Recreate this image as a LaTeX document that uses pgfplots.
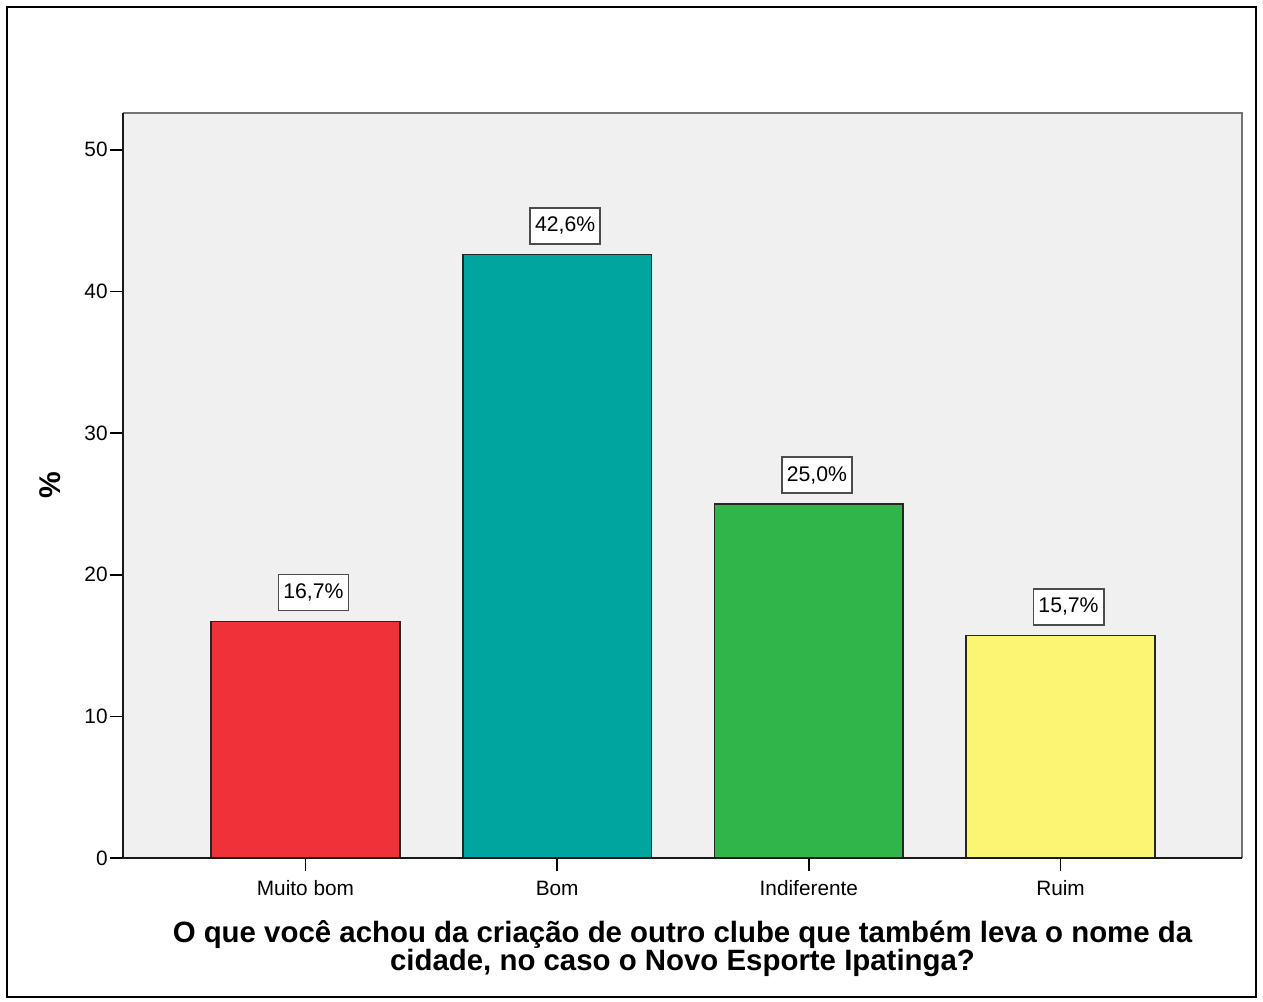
\documentclass[border=0pt]{standalone}
\usepackage{pgfplots}
\pgfplotsset{compat=1.18}
\usepackage{fontspec}
\setmainfont{Liberation Sans}

\definecolor{cRed}{RGB}{239,50,58}
\definecolor{cTeal}{RGB}{0,165,160}
\definecolor{cGreen}{RGB}{46,183,72}
\definecolor{cYellow}{RGB}{250,246,115}
\definecolor{plotbg}{RGB}{240,240,240}

\begin{document}
\begin{tikzpicture}[x=0.5pt,y=0.5pt]
\path[use as bounding box] (0,0) rectangle (1263,1001);
\draw[line width=1.1pt] (7,4) rectangle (1256,994);
\begin{axis}[
  at={(61.5pt,71.5pt)}, anchor=south west,
  scale only axis, width=559.5pt, height=372.5pt,
  xmin=-0.725, xmax=3.721, ymin=0, ymax=52.6,
  axis background/.style={fill=plotbg},
  axis line style={draw=none},
  xtick={0,1,2,3},
  xticklabels={Muito bom,Bom,Indiferente,Ruim},
  ytick={0,10,20,30,40,50},
  xtick pos=bottom, ytick pos=left,
  tick align=outside, major tick length=6.5pt,
  tick style={black, line width=0.8pt},
  /pgf/number format/assume math mode=true,
  ticklabel style={font=\fontsize{10.4}{12}\selectfont},
  yticklabel style={inner xsep=1pt},
  xticklabel style={text height=8pt, yshift=-0.5pt},
  ylabel={\%},
  ylabel style={font=\bfseries\fontsize{15}{16}\selectfont, at={(axis description cs:-0.065,0.5)}, anchor=center},
  xlabel={O que você achou da criação de outro clube que também leva o nome da\\cidade, no caso o Novo Esporte Ipatinga?},
  xlabel style={font=\bfseries\fontsize{14.7}{14}\selectfont, align=center, at={(axis description cs:0.5,-0.121)}, anchor=center},
  nodes near coords={\pgfmathprintnumber[fixed,fixed zerofill,precision=1,use comma]{\pgfplotspointmeta}\%},
  every node near coord/.append style={draw=black!70, fill=white, line width=0.9pt,
    inner xsep=2.5pt, inner ysep=4pt, text height=8pt, text depth=2pt,
    font=\fontsize{10.6}{12}\selectfont,
    anchor=south, yshift=5pt, xshift=4pt, text=black},
  clip=false,
]
\addplot[ybar, bar width=0.75, bar shift=0pt, fill=cRed, draw=black!85, line width=0.8pt] coordinates {(0,16.7)};
\addplot[ybar, bar width=0.75, bar shift=0pt, fill=cTeal, draw=black!85, line width=0.8pt] coordinates {(1,42.6)};
\addplot[ybar, bar width=0.75, bar shift=0pt, fill=cGreen, draw=black!85, line width=0.8pt] coordinates {(2,25.0)};
\addplot[ybar, bar width=0.75, bar shift=0pt, fill=cYellow, draw=black!85, line width=0.8pt] coordinates {(3,15.7)};
\draw[black!55, line width=1.1pt] (rel axis cs:0,1) -- (rel axis cs:1,1) -- (rel axis cs:1,0);
\draw[black!90, line width=1.1pt] (rel axis cs:0,1) -- (rel axis cs:0,0) -- (rel axis cs:1,0);
\end{axis}
\end{tikzpicture}
\end{document}
